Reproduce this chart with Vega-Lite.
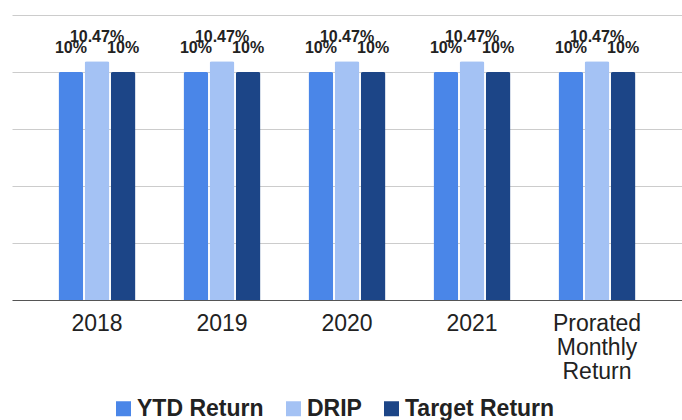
{
  "$schema": "https://vega.github.io/schema/vega-lite/v6.json",
  "width": 670,
  "height": 285,
  "autosize": {"type": "none"},
  "padding": {"left": 12, "top": 15, "right": 0, "bottom": 120},
  "background": "white",
  "config": {
    "font": "Liberation Sans",
    "view": {"stroke": null}
  },
  "data": {
    "values": [
      {"year": "2018", "series": "YTD Return", "value": 0.10},
      {"year": "2018", "series": "DRIP", "value": 0.1047},
      {"year": "2018", "series": "Target Return", "value": 0.10},
      {"year": "2019", "series": "YTD Return", "value": 0.10},
      {"year": "2019", "series": "DRIP", "value": 0.1047},
      {"year": "2019", "series": "Target Return", "value": 0.10},
      {"year": "2020", "series": "YTD Return", "value": 0.10},
      {"year": "2020", "series": "DRIP", "value": 0.1047},
      {"year": "2020", "series": "Target Return", "value": 0.10},
      {"year": "2021", "series": "YTD Return", "value": 0.10},
      {"year": "2021", "series": "DRIP", "value": 0.1047},
      {"year": "2021", "series": "Target Return", "value": 0.10},
      {"year": "Prorated Monthly Return", "series": "YTD Return", "value": 0.10},
      {"year": "Prorated Monthly Return", "series": "DRIP", "value": 0.1047},
      {"year": "Prorated Monthly Return", "series": "Target Return", "value": 0.10}
    ]
  },
  "encoding": {
    "x": {
      "field": "year",
      "type": "nominal",
      "sort": null,
      "scale": {"paddingInner": 0.384, "paddingOuter": 0.372},
      "axis": {
        "title": null,
        "labelAngle": 0,
        "labelFontSize": 23,
        "labelColor": "#222222",
        "labelPadding": 12,
        "labelLineHeight": 24,
        "labelBaseline": "top",
        "ticks": false,
        "domainColor": "#555555",
        "domainWidth": 1.2,
        "labelExpr": "datum.value == 'Prorated Monthly Return' ? ['Prorated', 'Monthly', 'Return'] : datum.value"
      }
    },
    "xOffset": {
      "field": "series",
      "type": "nominal",
      "sort": ["YTD Return", "DRIP", "Target Return"],
      "scale": {"paddingInner": 0.05}
    },
    "y": {
      "field": "value",
      "type": "quantitative",
      "scale": {"domain": [0, 0.125], "nice": false},
      "axis": {
        "title": null,
        "labels": false,
        "ticks": false,
        "domain": false,
        "values": [0.025, 0.05, 0.075, 0.1, 0.125],
        "gridColor": "#cccccc",
        "gridWidth": 1
      }
    }
  },
  "layer": [
    {
      "mark": {"type": "bar", "cornerRadiusTopLeft": 2, "cornerRadiusTopRight": 2},
      "encoding": {
        "color": {
          "field": "series",
          "type": "nominal",
          "scale": {
            "domain": ["YTD Return", "DRIP", "Target Return"],
            "range": ["#4a86e8", "#a4c2f4", "#1c4587"]
          },
          "legend": {
            "title": null,
            "orient": "none",
            "direction": "horizontal",
            "legendX": 98,
            "legendY": 380,
            "padding": 2,
            "symbolType": "square",
            "symbolSize": 225,
            "symbolStrokeWidth": 0,
            "labelFontSize": 23,
            "labelFontWeight": "bold",
            "labelColor": "#222222",
            "labelOffset": 2,
            "columnPadding": 18,
            "labelLimit": 300
          }
        }
      }
    },
    {
      "mark": {
        "type": "text",
        "baseline": "alphabetic",
        "dy": -19,
        "fontSize": 16,
        "fontWeight": "bold",
        "color": "#222222"
      },
      "encoding": {
        "text": {"field": "value", "type": "quantitative", "format": ".2~%"}
      }
    }
  ]
}
